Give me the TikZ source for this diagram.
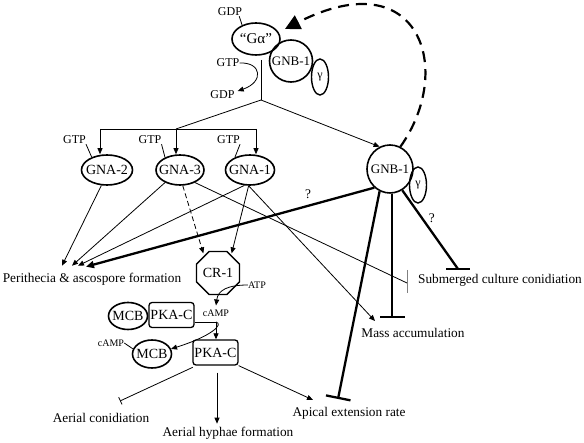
\documentclass[tikz,border=0pt]{standalone}
\usepackage{fontspec}
\setmainfont{Liberation Serif}
\usetikzlibrary{shapes}
\usetikzlibrary{arrows.meta}

\tikzset{
	prot/.style={ellipse, draw=black, line width=1.6pt, inner xsep=-5pt, inner ysep=0pt, font=\fontsize{14}{16}\selectfont},
	gam/.style={ellipse, draw=black, line width=1.4pt, inner sep=0pt, minimum width=17pt, minimum height=36pt, font=\fontsize{12}{14}\selectfont},
	kin/.style={rectangle, rounded corners=3pt, draw=black, line width=1.3pt, minimum width=45pt, minimum height=25pt, inner sep=0pt, font=\fontsize{14}{16}\selectfont},
	lbl/.style={inner sep=0pt, font=\fontsize{13.3}{15}\selectfont},
	sml/.style={inner sep=0pt, font=\fontsize{12}{14}\selectfont},
	tny/.style={inner sep=0pt, font=\fontsize{10}{12}\selectfont},
	link/.style={line width=0.8pt},
	tip/.style={link, -{Triangle[length=6pt,width=5pt]}},
	heavy/.style={line width=2.3pt},
	blocker/.style={heavy, -{Bar[width=25pt]}}
}

\begin{document}
\begin{tikzpicture}[x=1pt, y=-1pt]
		\useasboundingbox (0,0) rectangle (584,443);
		\node[prot, minimum width=48pt, minimum height=32pt, font=\fontsize{15}{17}\selectfont](galpha) at (256,39){“Gα”};
		\node[prot, minimum width=43pt, minimum height=42pt, font=\fontsize{13}{15}\selectfont](gnbtop) at (291,61){GNB-1};
		\node[gam](gamtop) at (320,77){γ};
		\node[prot, minimum width=51pt, minimum height=30pt](gnatwo)   at (107,170){GNA-2};
		\node[prot, minimum width=48pt, minimum height=30pt](gnathree) at (180,170){GNA-3};
		\node[prot, minimum width=49pt, minimum height=30pt](gnaone)   at (250,170){GNA-1};
		\node[prot, minimum width=46pt, minimum height=48pt, font=\fontsize{13}{15}\selectfont](gnb) at (390,169){GNB-1};
		\node[gam](gam) at (418,185){γ};
		\node[regular polygon, regular polygon sides=8, draw=black, line width=1.3pt, minimum size=38pt, inner sep=0pt, font=\fontsize{14}{16}\selectfont](crone) at (218,273){CR-1};
		\node[prot, minimum width=39pt, minimum height=27pt](mcbone) at (128,316){MCB};
		\node[kin](pkaone) at (171.5,315){PKA-C};
		\node[prot, minimum width=39pt, minimum height=28pt](mcbtwo) at (152,354){MCB};
		\node[kin](pkatwo) at (215.5,352.5){PKA-C};
		\node[sml](gdptop)   at (230,12){GDP};
		\node[sml](gtpmid)   at (228,63){GTP};
		\node[sml](gdpmid)   at (222.5,95){GDP};
		\node[sml](gtptwo)   at (74.5,140){GTP};
		\node[sml](gtpthree) at (150,140){GTP};
		\node[sml](gtpone)   at (228.5,140){GTP};
		\node[tny](atp)     at (257,285){ATP};
		\node[tny](campone) at (216,313){cAMP};
		\node[tny](camptwo) at (111,343){cAMP};
		\node[lbl](peri)    at (92,279){Perithecia \& ascospore formation};
		\node[lbl](subm)    at (500,280){Submerged culture conidiation};
		\node[lbl](mass)    at (413,333){Mass accumulation};
		\node[lbl](apical)  at (349,413){Apical extension rate};
		\node[lbl](aercon)  at (101,418){Aerial conidiation};
		\node[lbl](aerhyph) at (228,433){Aerial hyphae formation};
		\coordinate(stemtop)  at (261,60);
		\coordinate(fork)     at (261,100);
		\coordinate(split)    at (176,129);
		\coordinate(leftend)  at (100,129);
		\coordinate(rightend) at (256,129);
		\coordinate(gatip)    at (285,29);
		\coordinate(subthin)  at (407,283);
		\coordinate(subbar)   at (458,269);
		\coordinate(massbar)  at (392,318);
		\coordinate(apibar)   at (338,399);
		\coordinate(apitip)   at (313,400);
		\coordinate(masstip)  at (375,321);
		\coordinate(aerbar)   at (120,401);
		\coordinate(bend)     at (216,322);
		\draw[link] ([xshift=-3pt]gdptop.south east) -- (galpha.135);
		\draw[link] (stemtop) -- (fork);
		\draw[tip] (gtpmid.east) .. controls (262,62) and (264,82) .. ([xshift=3pt, yshift=4pt]gdpmid.east);
		\draw[link] (fork) -- (split);
		\draw[link] (leftend) -- (rightend);
		\draw[tip] (leftend) -- (leftend |- gnatwo.north);
		\draw[tip] (split) -- (split |- gnathree.north);
		\draw[tip] (rightend) -- (rightend |- gnaone.north);
		\draw[tip] (fork) -- (gnb.115);
		\draw[link] (gtptwo.south east) -- (gnatwo.140);
		\draw[link] (gtpthree.south east) -- (gnathree.140);
		\draw[link] (gtpone.south east) -- (gnaone.140);
		\draw[line width=2.2pt, dash pattern=on 11pt off 7pt, -{Triangle[length=15pt, width=15pt]}] (gnb.65) .. controls (455,70) and (420,-40) .. (gatip);
		\draw[tip] (gnatwo.250) -- ([xshift=-30pt, yshift=7pt]peri.north);
		\draw[tip] (gnathree.220) -- ([xshift=-20pt, yshift=7pt]peri.north);
		\draw[tip] (gnaone.250) -- ([xshift=-14pt, yshift=7pt]peri.north);
		\draw[heavy, -{Triangle[length=8pt, width=7pt]}] (gnb.230) -- node[lbl, pos=0.23, above=6pt]{?} ([xshift=-6pt, yshift=6pt]peri.north);
		\draw[tip, dash pattern=on 5pt off 3pt] (gnathree.280) -- ([shift={(1pt,4pt)}]crone.north west);
		\draw[tip] (gnaone.265) -- ([shift={(-2pt,4pt)}]crone.north east);
		\draw[tip] (gnaone.265) -- (masstip);
		\draw[link] (gnathree.320) -- (subthin);
		\draw[link, gray] ([yshift=13pt]subthin) -- ([yshift=-10pt]subthin);
		\draw[blocker] (gnb.245) -- (apibar);
		\draw[blocker] (gnb.south -| massbar) -- (massbar);
		\draw[heavy] (gnb.300) -- node[lbl, pos=0.35, right=6pt]{?} (subbar);
		\draw[heavy] ([xshift=-12pt]subbar) -- ([xshift=12pt]subbar);
		\draw[tip] (atp.west) .. controls (228,285) and (218,290) .. ([yshift=4pt]campone.north);
		\draw[link] (pkaone.east |- bend) -- (bend);
		\draw[tip] (bend) -- (bend |- pkatwo.north);
		\draw[tip] (bend) .. controls (224,324) and (212,336) .. (mcbtwo.15);
		\draw[link] (camptwo.east) -- (mcbtwo.165);
		\draw[link, shorten <=4pt, -{Bar[width=8pt]}] ([xshift=4pt]pkatwo.south west) -- (aerbar);
		\draw[tip, shorten <=7pt] ([xshift=1.5pt]pkatwo.south) -- ([xshift=1.5pt, yshift=3pt]pkatwo.south |- aerhyph.north);
		\draw[tip] (pkatwo.south east) -- (apitip);
	\end{tikzpicture}
\end{document}
